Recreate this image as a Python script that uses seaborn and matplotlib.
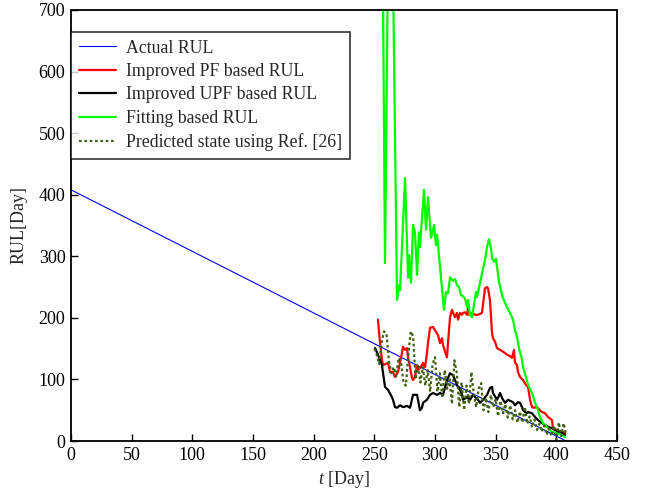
import numpy as np
import pandas as pd
import matplotlib
matplotlib.use("Agg")
import matplotlib.pyplot as plt
import seaborn as sns

# ---------------- data ----------------
actual_t = [0, 408]
actual_rul = [408, 0]

pf_t = [253.0, 254.7, 256.3, 257.2, 261.3, 262.9, 265.4, 267.0, 269.5, 272.8, 273.6, 275.3,
        276.9, 277.8, 279.4, 281.1, 281.9, 283.5, 285.2, 286.0, 289.3, 290.1, 291.8, 293.4,
        294.2, 295.9, 298.4, 302.5, 304.1, 305.8, 306.6, 308.3, 309.9, 310.7, 312.4, 314.0,
        314.8, 316.5, 318.1, 319.0, 320.6, 322.3, 323.1, 324.7, 326.4, 327.2, 328.0, 330.5,
        333.0, 335.4, 338.7, 341.2, 342.9, 343.7, 345.3, 347.0, 347.8, 349.5, 351.1, 353.6,
        356.1, 357.7, 359.3, 361.8, 363.5, 365.1, 365.9, 367.6, 368.4, 370.1, 372.5, 375.0,
        376.7, 378.3, 380.0, 380.8, 384.1, 386.5, 388.2, 390.7, 393.1, 396.4, 397.3, 400.6,
        403.0, 405.5, 407.2]
pf_rul = [197, 159, 132, 123, 127, 112, 112, 104, 112, 143, 153, 148,
          151, 136, 120, 102, 99, 104, 123, 115, 123, 127, 120, 143,
          159, 184, 185, 172, 159, 167, 156, 145, 136, 159, 201, 213,
          209, 201, 208, 197, 208, 205, 208, 209, 205, 216, 205, 208,
          205, 205, 208, 248, 250, 248, 229, 175, 167, 161, 151, 148,
          145, 143, 140, 138, 135, 148, 128, 123, 112, 104, 99, 91,
          88, 67, 55, 54, 55, 50, 47, 45, 39, 34, 21, 18,
          16, 15, 13]

upf_t = [250.6, 253.0, 256.3, 257.2, 258.8, 261.3, 264.6, 265.4, 267.0, 268.7, 271.2, 273.6,
         276.9, 279.4, 281.9, 285.2, 287.6, 289.3, 290.1, 293.4, 295.9, 298.4, 301.7, 304.1,
         306.6, 309.9, 312.4, 314.8, 318.1, 320.6, 322.3, 323.1, 326.4, 328.9, 331.3, 335.4,
         337.1, 339.6, 342.9, 345.3, 347.0, 347.8, 351.1, 351.9, 353.6, 355.2, 357.7, 360.2,
         364.3, 365.9, 368.4, 370.1, 371.7, 372.5, 375.8, 376.7, 380.0, 382.4, 384.9, 388.2,
         390.7, 393.1, 396.4, 398.9, 401.4, 404.7, 407.2]
upf_rul = [151, 140, 123, 110, 88, 83, 71, 67, 55, 54, 58, 55,
           57, 54, 75, 75, 50, 54, 62, 67, 75, 78, 75, 78,
           75, 99, 110, 107, 91, 83, 75, 67, 71, 67, 75, 67,
           62, 67, 75, 86, 88, 78, 67, 70, 78, 70, 62, 67,
           63, 58, 63, 62, 55, 50, 45, 47, 45, 39, 34, 29,
           26, 23, 21, 18, 15, 13, 10]

fit_t = [256.3, 258.8, 262.1, 264.2, 268.7, 270.3, 271.2, 275.3, 277.8, 278.6, 280.2, 281.9,
         283.5, 285.2, 286.8, 287.6, 290.9, 292.6, 294.2, 296.7, 299.2, 300.8, 301.7, 307.4,
         309.1, 310.7, 312.4, 314.8, 316.5, 318.1, 319.8, 321.4, 323.1, 324.7, 326.4, 327.2,
         328.9, 330.5, 333.8, 334.6, 337.1, 341.2, 342.9, 344.5, 346.2, 347.0, 348.6, 350.3,
         351.1, 352.8, 355.2, 357.7, 361.8, 364.3, 365.9, 367.6, 369.2, 371.7, 372.5, 375.0,
         376.7, 380.0, 382.4, 384.9, 386.5, 389.0, 393.1, 396.4, 399.7, 403.9, 407.2]
fit_rul = [950, 289, 950, 950, 229, 253, 245, 427, 265, 302, 257, 351,
           339, 270, 339, 315, 408, 343, 396, 330, 351, 318, 335, 213,
           242, 240, 266, 260, 263, 253, 250, 237, 235, 231, 218, 229,
           205, 201, 242, 234, 257, 294, 315, 328, 313, 297, 291, 296,
           283, 258, 237, 224, 208, 197, 180, 169, 151, 132, 120, 104,
           91, 78, 62, 50, 39, 29, 21, 15, 13, 10, 6]

ref_t = [250, 252, 254, 256, 258, 260, 262, 264, 266, 268, 270, 272, 274, 276, 278, 280,
         282, 284, 286, 288, 290, 292, 294, 296, 298, 300, 302, 304, 306, 308, 310, 312,
         314, 316, 318, 320, 322, 324, 326, 328, 330, 332, 334, 336, 338, 340, 342, 344,
         346, 348, 350, 352, 354, 356, 358, 360, 362, 364, 366, 368, 370, 372, 374, 376,
         378, 380, 382, 384, 386, 388, 390, 392, 394, 396, 398, 400, 402, 404, 406, 408]
ref_rul = [150, 140, 125, 160, 178, 175, 130, 110, 120, 105, 135, 128, 95, 90, 140, 178,
           170, 100, 125, 95, 120, 90, 115, 80, 125, 136, 80, 110, 70, 115, 85, 100,
           60, 131, 110, 55, 95, 50, 90, 60, 112, 75, 55, 85, 94, 50, 70, 47,
           75, 55, 68, 40, 65, 45, 60, 38, 58, 35, 50, 30, 48, 30, 55, 28,
           40, 22, 35, 18, 28, 15, 25, 10, 20, 8, 25, 2, 30, 8, 29, 10]

labels = ["Actual RUL", "Improved PF based RUL", "Improved UPF based RUL",
          "Fitting based RUL", "Predicted state using Ref. [26]"]

# ---------------- style ----------------
sns.set_style("ticks")
plt.rcParams['font.family'] = ['Liberation Serif', 'DejaVu Serif']
plt.rcParams['mathtext.fontset'] = 'custom'
plt.rcParams['mathtext.it'] = 'Liberation Serif:italic'
plt.rcParams['mathtext.rm'] = 'Liberation Serif'

fig = plt.figure(figsize=(6.49, 4.93), dpi=100)
ax = fig.add_axes([71/649, 1 - 441/493, (617 - 71)/649, (441 - 10)/493])

sns.lineplot(x=actual_t, y=actual_rul, ax=ax, color='#0000ff', lw=0.8, label=labels[0])
sns.lineplot(x=pf_t, y=pf_rul, ax=ax, color='#ff0000', lw=1.6, label=labels[1], sort=False)
sns.lineplot(x=upf_t, y=upf_rul, ax=ax, color='#000000', lw=1.6, label=labels[2], sort=False)
sns.lineplot(x=fit_t, y=fit_rul, ax=ax, color='#00ff00', lw=1.6, label=labels[3], sort=False)
sns.lineplot(x=ref_t, y=ref_rul, ax=ax, color='#3d6010', lw=1.6, label=labels[4],
             sort=False, linestyle=(0, (1.2, 1.2)))

ax.set_xlim(0, 450)
ax.set_ylim(0, 700)
ax.set_xticks(np.arange(0, 451, 50))
ax.set_yticks(np.arange(0, 701, 100))
ax.tick_params(direction='in', labelsize=13, length=5, width=1, colors='black', pad=4)
for s in ax.spines.values():
    s.set_visible(True)
    s.set_linewidth(1.3)
    s.set_color('black')

ax.set_xlabel(r'$t$ [Day]', fontsize=13, labelpad=4)
ax.set_ylabel('RUL[Day]', fontsize=13, labelpad=8)

leg = ax.legend(loc='upper left', bbox_to_anchor=(0.0, 0.95), borderaxespad=0,
                fontsize=12.8, frameon=True, fancybox=False, edgecolor='black',
                handlelength=2.1, handletextpad=0.55, labelspacing=0.36, borderpad=0.45)
leg.get_frame().set_linewidth(1.2)

fig.savefig('out.png', dpi=100)
